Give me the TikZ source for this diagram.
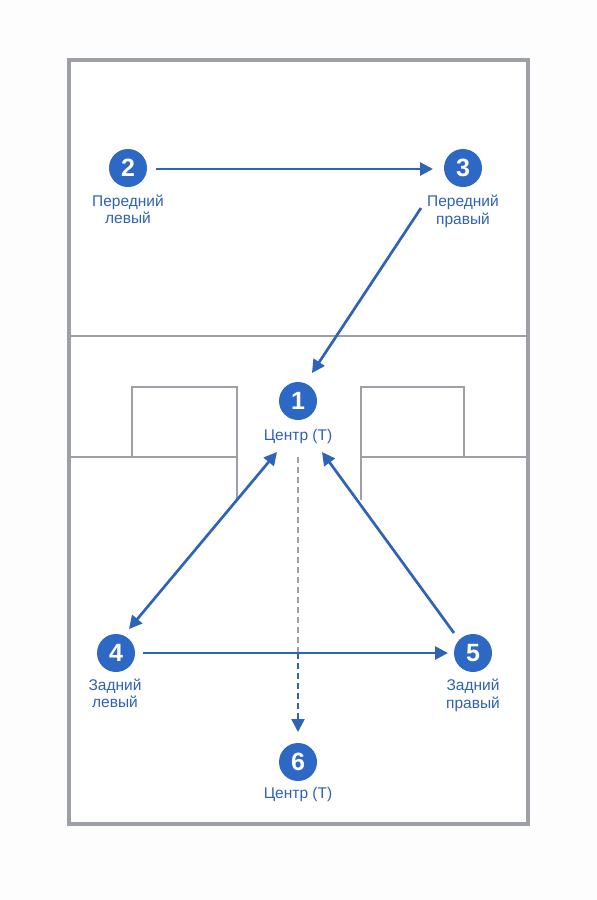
\documentclass[tikz,border=0pt]{standalone}
\usepackage{fontspec}
\setmainfont{Liberation Sans}
\usetikzlibrary{arrows.meta,calc}
\definecolor{cblue}{HTML}{2D68C4}
\definecolor{lblue}{HTML}{2F63B8}
\definecolor{tblue}{HTML}{2E62B4}
\definecolor{court}{HTML}{9DA1A7}
\definecolor{bg}{HTML}{FDFDFD}
\begin{document}
\begin{tikzpicture}[x=1pt,y=-1pt,
  courtline/.style={draw=court, line width=2.2pt},
  player/.style={circle, fill=cblue, text=white, minimum size=38pt, inner sep=0pt, font=\fontsize{25}{25}\selectfont\bfseries},
  plabel/.style={text=tblue, align=center, font=\fontsize{15.5}{17.5}\selectfont, inner sep=0pt},
  tip/.style={-{Triangle[length=13pt,width=13pt]}},
  arr/.style={draw=lblue, line width=2.7pt, tip},
  darr/.style={draw=lblue, line width=2.7pt, {Triangle[length=13pt,width=13pt]}-{Triangle[length=13pt,width=13pt]}},
  dashline/.style={line width=2.3pt, dash pattern=on 5.5pt off 4.5pt}
]
\useasboundingbox[fill=bg] (0,0) rectangle (597,900);
% court
\draw[courtline, line width=3.8pt, fill=white] (69,60) rectangle (528,824);
\draw[courtline] (69,336) -- (528,336);
\draw[courtline] (69,457) -- (237,457);
\draw[courtline] (132,457) -- (132,387) -- (237,387) -- (237,500);
\draw[courtline] (528,457) -- (361,457);
\draw[courtline] (464,457) -- (464,387) -- (361,387) -- (361,500);
% players
\node[player] (n1) at (298,401) {1};
\node[player] (n2) at (128,168) {2};
\node[player] (n3) at (463,168) {3};
\node[player] (n4) at (116,653) {4};
\node[player] (n5) at (473,653) {5};
\node[player] (n6) at (298,762) {6};
% labels
\node[plabel] (l1) at (298,436) {Центр (Т)};
\node[plabel] (l2) at (128,209.5) {Передний\\левый};
\node[plabel] (l3) at (463,211.5) {Передний\\правый};
\node[plabel] (l4) at (115,693.5) {Задний\\левый};
\node[plabel] (l5) at (473,695.5) {Задний\\правый};
\node[plabel] (l6) at (298,794) {Центр (Т)};
% connectors
\draw[arr] ($(n2)+(28,1)$) -- ($(n3)+(-30,1)$);
\draw[arr] ($(n3)+(-42,40)$) -- ($(n1)+(14,-28)$);
\draw[darr] ($(n4)+(13,-24)$) -- ($(n1)+(-21,51)$);
\draw[arr] ($(n5)+(-19,-20)$) -- ($(n1)+(24,51)$);
\coordinate (cross) at ($(n1)+(0,252)$);
\draw[dashline, draw=court] ($(n1)+(0,56)$) -- (cross);
\draw[dashline, draw=lblue] (cross) -- ($(n6)+(0,-40)$);
\draw[draw=lblue, line width=2.3pt, tip] ($(n6)+(0,-41)$) -- ($(n6)+(0,-30)$);
\draw[arr] ($(n4)+(27,0)$) -- ($(n5)+(-25,0)$);
\end{tikzpicture}
\end{document}
